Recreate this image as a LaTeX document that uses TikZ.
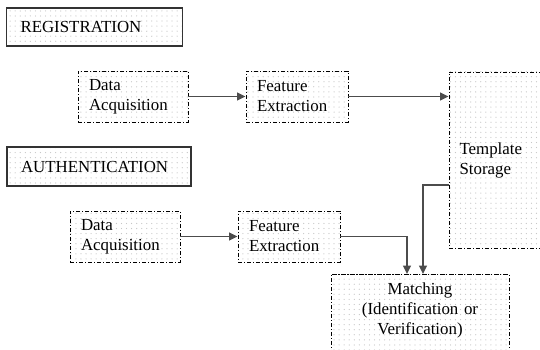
\documentclass[tikz,border=0pt]{standalone}
\usepackage{fontspec}
\setmainfont{Liberation Serif}
\usetikzlibrary{arrows.meta}
\usetikzlibrary{calc}
\usetikzlibrary{patterns}
\pgfdeclarepatternformonly{sparse dots}{\pgfqpoint{-1pt}{-1pt}}{\pgfqpoint{1pt}{1pt}}{\pgfqpoint{3.6pt}{3.6pt}}{%
  \pgfpathcircle{\pgfqpoint{0pt}{0pt}}{0.45pt}\pgfusepath{fill}}
\tikzset{>={Triangle[length=6pt,width=5.5pt]}}
\tikzset{stage/.style={draw=black,line width=0.6pt,dash pattern=on 3pt off 1.3pt on 0.8pt off 1.3pt,pattern=sparse dots,pattern color=black!22,align=left,inner xsep=7pt}}
\tikzset{phase/.style={draw=black!80,line width=0.8pt,pattern=sparse dots,pattern color=black!22,align=left,inner xsep=10pt}}
\tikzset{link/.style={->,draw=black!70,line width=1.1pt}}

\begin{document}
\begin{tikzpicture}[every node/.style={font=\fontsize{12}{14.2}\selectfont,node distance=1cm}]
\useasboundingbox (0,0) rectangle (13.5,-8.75);

\draw node[phase,minimum width=4.225cm,minimum height=0.95cm,text width=3.7cm] at (2.3625,-0.675) (reg) {REGISTRATION};
\draw node[stage,minimum width=2.75cm,minimum height=1.275cm,text width=2.2cm] at (3.325,-2.4125) (da1) {Data\\Acquisition};
\draw node[stage,right of=da1,xshift=3.1cm,minimum width=2.55cm,minimum height=1.275cm,text width=2cm] (fe1) {Feature\\Extraction};
\draw node[stage,minimum width=3.025cm,minimum height=4.4cm,text width=2.5cm] at (12.7375,-4) (ts) {Template\\Storage};

\draw node[phase,minimum width=4.45cm,minimum height=0.975cm,text width=3.9cm] at (2.475,-4.1625) (auth) {AUTHENTICATION};
\draw node[stage,minimum width=2.75cm,minimum height=1.275cm,text width=2.2cm] at (3.125,-5.9125) (da2) {Data\\Acquisition};
\draw node[stage,right of=da2,xshift=3.1cm,minimum width=2.55cm,minimum height=1.275cm,text width=2cm] (fe2) {Feature\\Extraction};
\draw node[stage,anchor=north,align=center,minimum width=4.45cm,text width=3.9cm,inner ysep=6pt] at (10.5,-6.85) (match) {Matching\\(Identification or\\Verification)\\~\\~};

\draw[link] (da1.east) -- (fe1.west);
\draw[link] (fe1.east) -- (fe1.east -| ts.west);
\draw[link] (da2.east) -- (fe2.west);
\draw[link] (fe2.east) -| ([xshift=-0.325cm]match.north);
\draw[link] ([yshift=-0.625cm]ts.west) -| ([xshift=0.075cm]match.north);

\end{tikzpicture}
\end{document}
